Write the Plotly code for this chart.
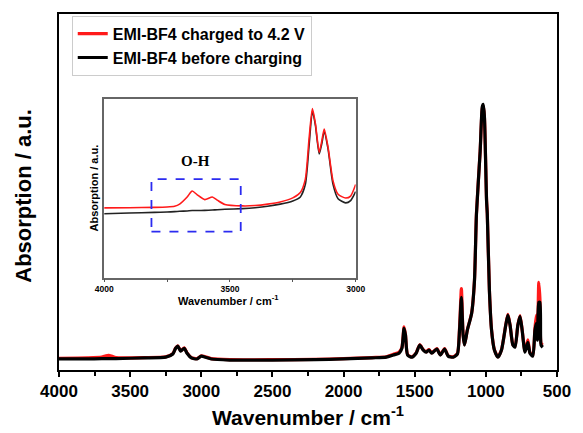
import plotly.graph_objects as go

# ---- main spectrum (wavenumber, absorbance a.u.) ----
wn_main = [4000, 3800, 3700, 3670, 3650, 3630, 3600, 3400, 3250, 3200, 3180, 3165, 3145, 3120, 3100,
           3070, 3030, 3000, 2970, 2930, 2800, 2500, 2200, 2000, 1800, 1700, 1650, 1610, 1590,
           1575, 1565, 1550, 1520, 1490, 1465, 1440, 1420, 1400, 1380, 1345, 1320, 1290, 1265,
           1230, 1200, 1185, 1172, 1160, 1150, 1130, 1100, 1080, 1066, 1040, 1025, 1018, 1010,
           995, 990, 975, 960, 940, 915, 890, 860, 845, 830, 810, 795, 775, 760, 745, 725,
           705, 690, 670, 655, 645, 637, 628, 620, 612, 600]
abs_black = [0.031, 0.031, 0.032, 0.032, 0.032, 0.032, 0.032, 0.034, 0.036, 0.045, 0.061, 0.067, 0.053, 0.061, 0.047,
             0.034, 0.031, 0.039, 0.036, 0.031, 0.028, 0.028, 0.029, 0.031, 0.034, 0.036, 0.042, 0.047, 0.061,
             0.117, 0.098, 0.042, 0.036, 0.047, 0.070, 0.056, 0.050, 0.056, 0.047, 0.059, 0.042, 0.059, 0.039,
             0.036, 0.045, 0.112, 0.204, 0.098, 0.070, 0.112, 0.159, 0.251, 0.439, 0.615, 0.740, 0.746, 0.712,
             0.475, 0.439, 0.223, 0.112, 0.056, 0.036, 0.056, 0.126, 0.154, 0.126, 0.070, 0.064, 0.126, 0.151, 0.112, 0.050,
             0.078, 0.047, 0.039, 0.112, 0.131, 0.084, 0.190, 0.190, 0.070, 0.064]
abs_red = [0.033, 0.034, 0.036, 0.040, 0.041, 0.039, 0.035, 0.035, 0.037, 0.046, 0.062, 0.068, 0.054, 0.062, 0.048,
           0.035, 0.032, 0.040, 0.037, 0.032, 0.029, 0.029, 0.030, 0.032, 0.035, 0.037, 0.044, 0.050, 0.063,
           0.121, 0.100, 0.043, 0.037, 0.048, 0.071, 0.057, 0.051, 0.057, 0.048, 0.060, 0.043, 0.060, 0.040,
           0.037, 0.046, 0.118, 0.229, 0.100, 0.071, 0.113, 0.160, 0.252, 0.440, 0.615, 0.735, 0.742, 0.710,
           0.476, 0.440, 0.224, 0.113, 0.057, 0.037, 0.057, 0.127, 0.156, 0.127, 0.071, 0.066, 0.127, 0.153, 0.113, 0.052,
           0.085, 0.049, 0.040, 0.118, 0.154, 0.090, 0.246, 0.200, 0.075, 0.070]

# ---- inset spectrum (3000-4000 cm-1) ----
wn_inset = [4000, 3900, 3800, 3750, 3720, 3700, 3670, 3650, 3630, 3600, 3570, 3550, 3520, 3450, 3400,
            3350, 3300, 3250, 3220, 3200, 3185, 3172, 3160, 3145, 3135, 3125, 3110, 3090, 3070, 3040,
            3020, 3000]
ins_black = [0.356, 0.360, 0.364, 0.366, 0.368, 0.370, 0.372, 0.374, 0.374, 0.375, 0.377, 0.379, 0.381, 0.385, 0.390,
             0.398, 0.410, 0.428, 0.450, 0.520, 0.740, 0.930, 0.850, 0.690, 0.745, 0.815, 0.720, 0.520, 0.440, 0.417,
             0.430, 0.480]
ins_red = [0.389, 0.390, 0.392, 0.394, 0.398, 0.410, 0.450, 0.483, 0.462, 0.435, 0.450, 0.432, 0.408, 0.400, 0.402,
           0.410, 0.422, 0.445, 0.475, 0.550, 0.780, 0.944, 0.860, 0.700, 0.760, 0.830, 0.730, 0.540, 0.465, 0.444,
           0.455, 0.520]

main_ticks = [4000, 3500, 3000, 2500, 2000, 1500, 1000, 500]
inset_ticks = [4000, 3500, 3000]
legend_names = ["EMI-BF4 charged to 4.2 V", "EMI-BF4 before charging"]
RED = "#ff1a1a"
BLACK = "#000000"

fig = go.Figure()
fig.add_trace(go.Scatter(x=wn_main, y=abs_red, mode="lines", name=f"<b>{legend_names[0]}</b>",
                         line=dict(color=RED, width=3.2, shape="spline", smoothing=0.6)))
fig.add_trace(go.Scatter(x=wn_main, y=abs_black, mode="lines", name=f"<b>{legend_names[1]}</b>",
                         line=dict(color=BLACK, width=3.2, shape="spline", smoothing=0.6)))
fig.add_trace(go.Scatter(x=wn_inset, y=ins_black, mode="lines", showlegend=False, xaxis="x2", yaxis="y2",
                         line=dict(color="#222222", width=1.6, shape="spline", smoothing=0.6)))
fig.add_trace(go.Scatter(x=wn_inset, y=ins_red, mode="lines", showlegend=False, xaxis="x2", yaxis="y2",
                         line=dict(color=RED, width=1.6, shape="spline", smoothing=0.6)))

fig.update_layout(
    width=583, height=433,
    margin=dict(l=59, r=17, t=12, b=63),
    paper_bgcolor="white", plot_bgcolor="white",
    font=dict(family="Liberation Sans, Arial", color="black"),
    xaxis=dict(range=[4000, 500], tickvals=main_ticks, ticktext=[f"<b>{t}</b>" for t in main_ticks],
               tickfont=dict(size=17), ticks="outside", ticklen=5, tickwidth=1.5, tickcolor="black",
               showline=True, linecolor="black", linewidth=2, mirror=True, showgrid=False, zeroline=False,
               minor=dict(tickvals=[3750, 3250, 2750, 2250, 1750, 1250, 750], ticks="outside", ticklen=4,
                          tickwidth=1.5, tickcolor="black")),
    yaxis=dict(range=[0, 1], showticklabels=False, ticks="", showline=True, linecolor="black", linewidth=2,
               mirror=True, showgrid=False, zeroline=False),
    xaxis2=dict(domain=[0.0907, 0.5957], anchor="y2", range=[4000, 3000], tickvals=inset_ticks,
                ticktext=[f"<b>{t}</b>" for t in inset_ticks], tickfont=dict(size=8.5),
                ticks="outside", ticklen=3, tickwidth=1, tickcolor="#555",
                showline=True, linecolor="#666", linewidth=1.5, mirror=True, showgrid=False, zeroline=False,
                minor=dict(tickvals=[3750, 3250], ticks="outside", ticklen=3, tickwidth=1, tickcolor="#555")),
    yaxis2=dict(domain=[0.2598, 0.7626], anchor="x2", range=[0, 1], showticklabels=False, ticks="",
                showline=True, linecolor="#666", linewidth=1.5, mirror=True, showgrid=False, zeroline=False),
    showlegend=True,
    legend=dict(x=0.0256, y=0.995, xanchor="left", yanchor="top", bgcolor="white",
                bordercolor="#cccccc", borderwidth=1, font=dict(size=16, color="black"),
                tracegroupgap=0, itemwidth=30),
)

fig.add_shape(type="rect", xref="x2", yref="y2", x0=3812, x1=3457, y0=0.256, y1=0.55,
              line=dict(color="#2b2bf0", width=1.8, dash="dash"))

fig.add_annotation(x=3637, y=0.65, xref="x2", yref="y2", text="<b>O-H</b>", showarrow=False,
                   font=dict(family="Liberation Serif, Times New Roman", size=15, color="black"))
fig.add_annotation(x=0.5, xref="paper", y=-0.128, yref="paper", text="<b>Wavenumber / cm<sup>-1</sup></b>",
                   showarrow=False, font=dict(size=21), yanchor="middle")
fig.add_annotation(x=-0.072, xref="paper", y=0.49, yref="paper", text="<b>Absorption / a.u.</b>", textangle=-90,
                   showarrow=False, font=dict(size=22), xanchor="center", yanchor="middle")
# inset axis titles
fig.add_annotation(x=(232 - 59) / 507, xref="paper", y=(370 - 309) / 358, yref="paper",
                   text="<b>Wavenumber / cm<sup>-1</sup></b>", showarrow=False, font=dict(size=11))
fig.add_annotation(x=(87 - 59) / 507, xref="paper", y=(370 - 187) / 358, yref="paper",
                   text="<b>Absorption / a.u.</b>", textangle=-90, showarrow=False, font=dict(size=11))

fig.write_html("out.html")
